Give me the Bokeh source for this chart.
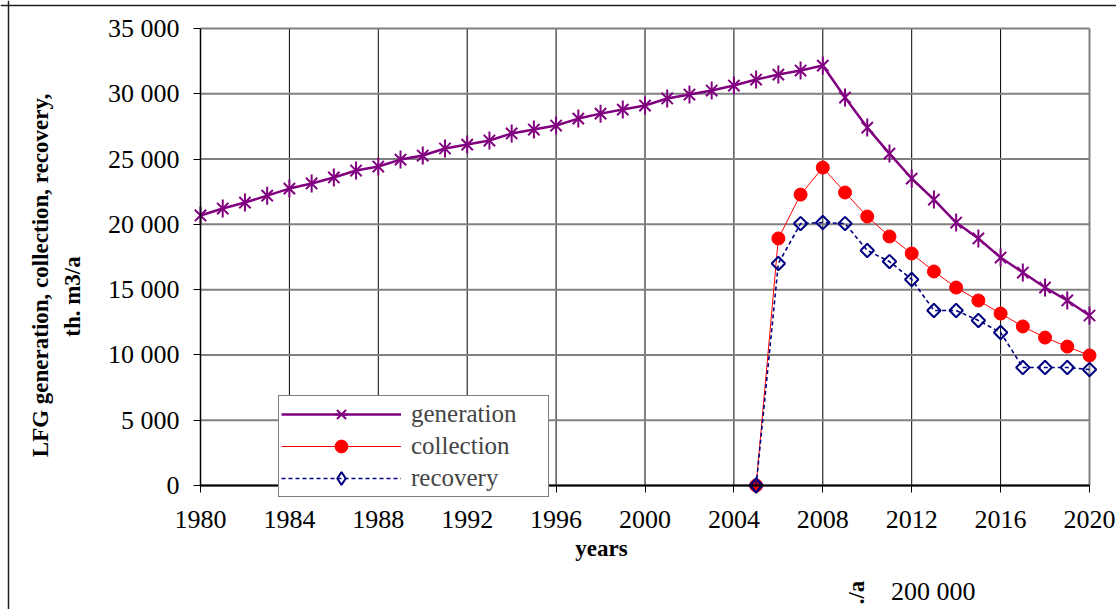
import numpy as np
from bokeh.plotting import figure
from bokeh.models import Range1d, FixedTicker, Label, Legend, LegendItem, Span
from bokeh.embed import file_html
from bokeh.resources import INLINE

# ---------------- data ----------------
years_gen = list(range(1980, 2021))
generation = [20680, 21210, 21670, 22200, 22740, 23130, 23590, 24120, 24430, 24960,
              25270, 25810, 26110, 26420, 26960, 27260, 27570, 28100, 28480, 28790,
              29100, 29640, 29940, 30250, 30630, 31090, 31470, 31780, 32160, 29710,
              27410, 25420, 23510, 21900, 20140, 18920, 17460, 16310, 15160, 14170,
              13020]
years_col = list(range(2005, 2021))
collection = [0, 18920, 22280, 24350, 22440, 20600, 19070, 17770, 16390, 15160,
              14170, 13170, 12180, 11330, 10640, 9960]
recovery = [0, 17000, 20060, 20140, 20060, 18000, 17150, 15780, 13400, 13400,
            12640, 11720, 9040, 9040, 9040, 8880]

x_ticks = list(range(1980, 2021, 4))
y_ticks = [0, 5000, 10000, 15000, 20000, 25000, 30000, 35000]
y_tick_labels = ["0", "5 000", "10 000", "15 000", "20 000", "25 000", "30 000", "35 000"]

series_names = ["generation", "collection", "recovery"]
y_title_1 = "LFG  generation, collection, recovery,"
y_title_2 = "th. m3/a"
x_title = "years"
next_chart_tick = "200 000"
next_chart_title = "./a"

# ---------------- layout (pixels) ----------------
W, H = 1116, 609
PL, PR, PT, PB = 200, 1089, 28, 485          # plot-area edges on the canvas
x0, x1 = x_ticks[0], x_ticks[-1]
y0, y1 = y_ticks[0], y_ticks[-1]
sx = (PR - PL) / (x1 - x0)
sy = (PB - PT) / (y1 - y0)
x_range = Range1d(x0 - PL / sx, x1 + (W - PR) / sx)
y_range = Range1d(y0 - (H - PB) / sy, y1 + PT / sy)

SERIF = "Liberation Serif"
PURPLE = "#800080"
RED = "#FF0000"
NAVY = "#000080"
GRID_GRAY = "#808080"

p = figure(width=W, height=H, output_backend="svg", toolbar_location=None,
           x_range=x_range, y_range=y_range)
p.min_border = 0
p.min_border_left = p.min_border_right = p.min_border_top = p.min_border_bottom = 0
p.background_fill_color = "white"
p.border_fill_color = "white"
p.outline_line_color = None
p.xgrid.visible = False
p.ygrid.visible = False

# outer frame of the picture
p.add_layout(Span(location=8, location_units="screen", dimension="height",
                  line_color="#202020", line_width=1.5))
p.add_layout(Span(location=H - 5, location_units="screen", dimension="width",
                  line_color="#202020", line_width=1.5))

# grid lines of the plot area (from the tick arrays)
inner_x = [t for t in x_ticks if t not in (x0, x1)]
p.segment(x0=inner_x, y0=[y0] * len(inner_x), x1=inner_x, y1=[y1] * len(inner_x),
          line_color="black", line_width=1)
p.segment(x0=[x0] * len(y_ticks), y0=y_ticks, x1=[x1] * len(y_ticks), y1=y_ticks,
          line_color=GRID_GRAY, line_width=2)
p.segment(x0=[x1], y0=[y0], x1=[x1], y1=[y1], line_color=GRID_GRAY, line_width=2)

# axes fixed at the plot-area edges
p.xaxis.fixed_location = y0
p.yaxis.fixed_location = x0
p.xaxis.bounds = (x0, x1)
p.yaxis.bounds = (y0, y1)
p.xaxis.ticker = FixedTicker(ticks=x_ticks)
p.yaxis.ticker = FixedTicker(ticks=y_ticks)
p.yaxis.major_label_overrides = {t: l for t, l in zip(y_ticks, y_tick_labels)}
for ax in (p.xaxis, p.yaxis):
    ax.major_label_text_font = SERIF
    ax.major_label_text_font_size = "26px"
    ax.major_label_text_color = "black"
    ax.axis_line_color = "black"
    ax.major_tick_line_color = "black"
    ax.major_tick_in = 0
    ax.major_tick_out = 7
    ax.minor_tick_line_color = None
p.xaxis.axis_line_width = 2
p.yaxis.axis_line_width = 1.5
p.xaxis.major_label_standoff = 18
p.yaxis.major_label_standoff = 14

# generation
g_line = p.line(years_gen, generation, line_color=PURPLE, line_width=2.5)
g_x = p.scatter(years_gen, generation, marker="x", size=16, line_color=PURPLE, line_width=2)
g_v = p.scatter(years_gen, generation, marker="dash", angle=np.pi / 2, size=18,
                line_color=PURPLE, line_width=2)

# collection
c_line = p.line(years_col, collection, line_color=RED, line_width=1)
c_pts = p.scatter(years_col, collection, marker="circle", size=13, fill_color=RED,
                  line_color=RED)

# recovery
r_line = p.line(years_col, recovery, line_color=NAVY, line_width=1.6, line_dash="4 3")
r_pts = p.scatter(years_col, recovery, marker="square", angle=np.pi / 4, size=9.5,
                  fill_alpha=0, line_color=NAVY, line_width=2)
r_key = p.scatter(years_col[:1], recovery[:1], marker="diamond", size=15,
                  fill_alpha=0, line_color=NAVY, line_width=2)

legend = Legend(items=[
    LegendItem(label=series_names[0], renderers=[g_line, g_x, g_v]),
    LegendItem(label=series_names[1], renderers=[c_line, c_pts]),
    LegendItem(label=series_names[2], renderers=[r_line, r_key]),
], location=(278, H - 497))
legend.label_text_font = SERIF
legend.label_text_font_size = "25px"
legend.glyph_width = 120
legend.glyph_height = 32
legend.label_width = 135
legend.label_height = 28
legend.label_standoff = 10
legend.padding = 2
legend.spacing = 0
legend.margin = 0
legend.border_line_color = "black"
legend.border_line_width = 1
legend.background_fill_color = "white"
legend.background_fill_alpha = 1
p.add_layout(legend)

# axis titles
bold = dict(text_font=SERIF, text_font_style="bold", text_color="black",
            text_align="center", text_baseline="middle")
p.add_layout(Label(x=40, y=H - 272, x_units="screen", y_units="screen", text=y_title_1,
                   angle=np.pi / 2, text_font_size="23px", **bold))
p.add_layout(Label(x=72, y=H - 296, x_units="screen", y_units="screen", text=y_title_2,
                   angle=np.pi / 2, text_font_size="23px", **bold))
p.add_layout(Label(x=601, y=H - 548, x_units="screen", y_units="screen", text=x_title,
                   text_font_size="23px", **bold))

# start of the next chart, cut by the bottom edge
p.add_layout(Label(x=975, y=H - 591, x_units="screen", y_units="screen",
                   text=next_chart_tick, text_align="right", text_baseline="middle",
                   text_font=SERIF, text_font_size="26px", text_color="black"))
p.add_layout(Label(x=856, y=H - 592, x_units="screen", y_units="screen",
                   text=next_chart_title, angle=np.pi / 2, text_font_size="23px", **bold))

open("out.html", "w").write(file_html(p, INLINE))
